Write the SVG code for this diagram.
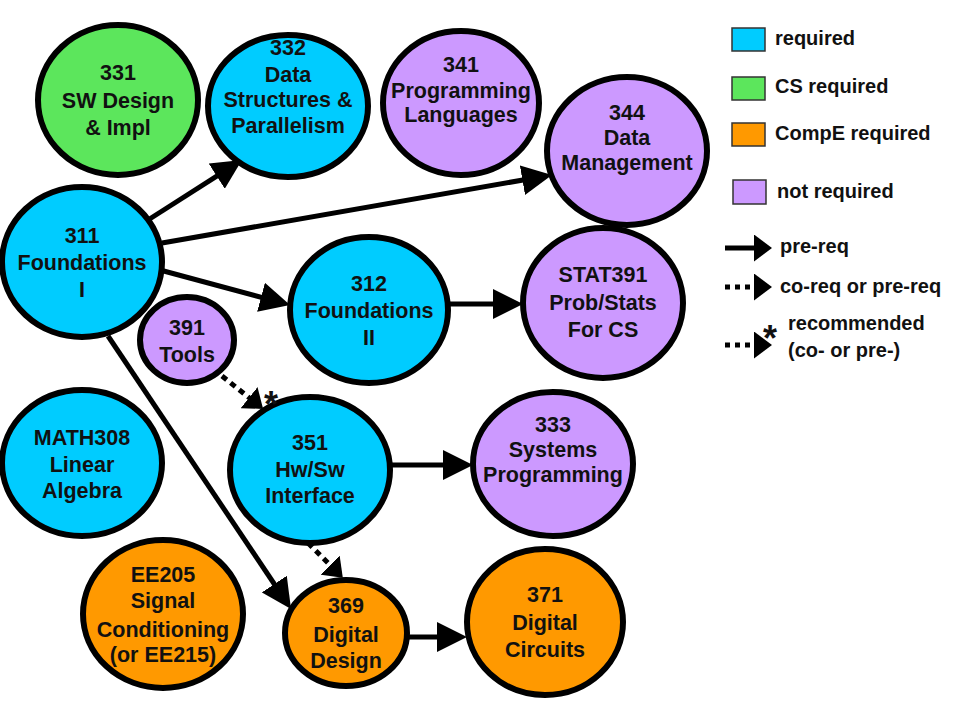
<svg xmlns="http://www.w3.org/2000/svg" width="960" height="720" viewBox="0 0 960 720">
<style>
.n{stroke:#000;stroke-width:6}
.blue{fill:#00CCFF}.green{fill:#5CE65C}.orange{fill:#FF9900}.purple{fill:#CC99FF}
.t{font-family:"Liberation Sans",Arial,sans-serif;font-weight:bold;font-size:21.5px;fill:#111;text-anchor:middle}
.lg{font-family:"Liberation Sans",Arial,sans-serif;font-weight:bold;font-size:20px;fill:#111}
.star{font-family:"Liberation Sans",Arial,sans-serif;font-weight:bold;font-size:36px;fill:#111;text-anchor:middle}
.e{stroke:#000;stroke-width:5;fill:none}
.big{marker-end:url(#ah)}
.sm{marker-end:url(#ahs)}
.dot{stroke-dasharray:6 5}
.lr{stroke:#333;stroke-width:1.5}
</style>
<defs>
<marker id="ah" viewBox="0 0 30 30" refX="21" refY="15" markerWidth="30" markerHeight="30" markerUnits="userSpaceOnUse" orient="auto"><path d="M0,0 L30,15 L0,30 z" fill="#000"/></marker>
<marker id="ahs" viewBox="0 0 18 27" refX="14" refY="13.5" markerWidth="18" markerHeight="27" markerUnits="userSpaceOnUse" orient="auto"><path d="M0,0 L18,13.5 L0,27 z" fill="#000"/></marker>
</defs>
<rect width="960" height="720" fill="#fff"/>
<g id="connectors">
<line class="e big" x1="148" y1="220" x2="234.4" y2="164.8"/>
<line class="e big" x1="162" y1="243" x2="543.1" y2="176.5"/>
<line class="e big" x1="160" y1="270" x2="281.3" y2="302.7"/>
<line class="e big" x1="448" y1="304" x2="514" y2="304"/>
<line class="e big" x1="108" y1="336" x2="286" y2="601.5"/>
<line class="e big" x1="390" y1="465" x2="464" y2="465"/>
<line class="e big" x1="408" y1="637" x2="458" y2="637"/>
<line class="e sm dot" x1="222" y1="376" x2="260" y2="406.4"/>
<line class="e sm dot" x1="308" y1="543" x2="340" y2="575"/>
</g>
<g id="n331"><ellipse class="n green" cx="118" cy="100" rx="80" ry="75"/>
<text class="t" x="118" y="80">331</text><text class="t" x="118" y="108">SW Design</text><text class="t" x="118" y="135">&amp; Impl</text></g>
<g id="n332"><ellipse class="n blue" cx="288" cy="106" rx="80" ry="71"/>
<text class="t" x="288" y="55">332</text><text class="t" x="288" y="82">Data</text><text class="t" x="288" y="107">Structures &amp;</text><text class="t" x="288" y="133">Parallelism</text></g>
<g id="n341"><ellipse class="n purple" cx="461" cy="103" rx="78" ry="72"/>
<text class="t" x="461" y="72">341</text><text class="t" x="461" y="98">Programming</text><text class="t" x="461" y="122">Languages</text></g>
<g id="n344"><ellipse class="n purple" cx="627" cy="151" rx="80" ry="74"/>
<text class="t" x="627" y="120">344</text><text class="t" x="627" y="145">Data</text><text class="t" x="627" y="170">Management</text></g>
<g id="n311"><ellipse class="n blue" cx="82" cy="262" rx="80" ry="75"/>
<text class="t" x="82" y="243">311</text><text class="t" x="82" y="270">Foundations</text><text class="t" x="82" y="297">I</text></g>
<g id="n312"><ellipse class="n blue" cx="369" cy="310" rx="79" ry="73"/>
<text class="t" x="369" y="291">312</text><text class="t" x="369" y="318">Foundations</text><text class="t" x="369" y="345">II</text></g>
<g id="nstat391"><ellipse class="n purple" cx="603" cy="303" rx="80" ry="75"/>
<text class="t" x="603" y="282">STAT391</text><text class="t" x="603" y="310">Prob/Stats</text><text class="t" x="603" y="337">For CS</text></g>
<g id="n391"><ellipse class="n purple" cx="187" cy="340" rx="47" ry="43"/>
<text class="t" x="187" y="335">391</text><text class="t" x="187" y="362">Tools</text></g>
<g id="nmath308"><ellipse class="n blue" cx="82" cy="463" rx="80" ry="73"/>
<text class="t" x="82" y="445">MATH308</text><text class="t" x="82" y="472">Linear</text><text class="t" x="82" y="498">Algebra</text></g>
<g id="n351"><ellipse class="n blue" cx="310" cy="470" rx="80" ry="73"/>
<text class="t" x="310" y="450">351</text><text class="t" x="310" y="477">Hw/Sw</text><text class="t" x="310" y="503">Interface</text></g>
<g id="n333"><ellipse class="n purple" cx="553" cy="464" rx="80" ry="72"/>
<text class="t" x="553" y="432">333</text><text class="t" x="553" y="457">Systems</text><text class="t" x="553" y="482">Programming</text></g>
<g id="nee205"><ellipse class="n orange" cx="163" cy="614" rx="80" ry="74"/>
<text class="t" x="163" y="582">EE205</text><text class="t" x="163" y="608">Signal</text><text class="t" x="163" y="637">Conditioning</text><text class="t" x="163" y="662">(or EE215)</text></g>
<g id="n369"><ellipse class="n orange" cx="346" cy="633" rx="61" ry="53"/>
<text class="t" x="346" y="613">369</text><text class="t" x="346" y="642">Digital</text><text class="t" x="346" y="668">Design</text></g>
<g id="n371"><ellipse class="n orange" cx="545" cy="622" rx="78" ry="73"/>
<text class="t" x="545" y="602">371</text><text class="t" x="545" y="630">Digital</text><text class="t" x="545" y="657">Circuits</text></g>
<g id="star-label"><text class="star" x="271" y="417">*</text></g>
<g id="legend">
<rect class="lr blue" x="732" y="28" width="33" height="23"/><text class="lg" x="775" y="45">required</text>
<rect class="lr green" x="732" y="77" width="33" height="23"/><text class="lg" x="775" y="93">CS required</text>
<rect class="lr orange" x="732" y="123" width="33" height="23"/><text class="lg" x="775" y="140">CompE required</text>
<rect class="lr purple" x="733" y="180" width="33" height="24"/><text class="lg" x="777" y="198">not required</text>
<line class="e sm" x1="725" y1="248" x2="768" y2="248"/><text class="lg" x="780" y="253">pre-req</text>
<line class="e sm dot" x1="725" y1="287" x2="768" y2="287" style="stroke-dasharray:5 5"/><text class="lg" x="780" y="293">co-req or pre-req</text>
<line class="e sm dot" x1="725" y1="345" x2="768" y2="345" style="stroke-dasharray:5 5"/><text class="star" x="770" y="351">*</text>
<text class="lg" x="788" y="330">recommended</text><text class="lg" x="788" y="357">(co- or pre-)</text>
</g>
</svg>
